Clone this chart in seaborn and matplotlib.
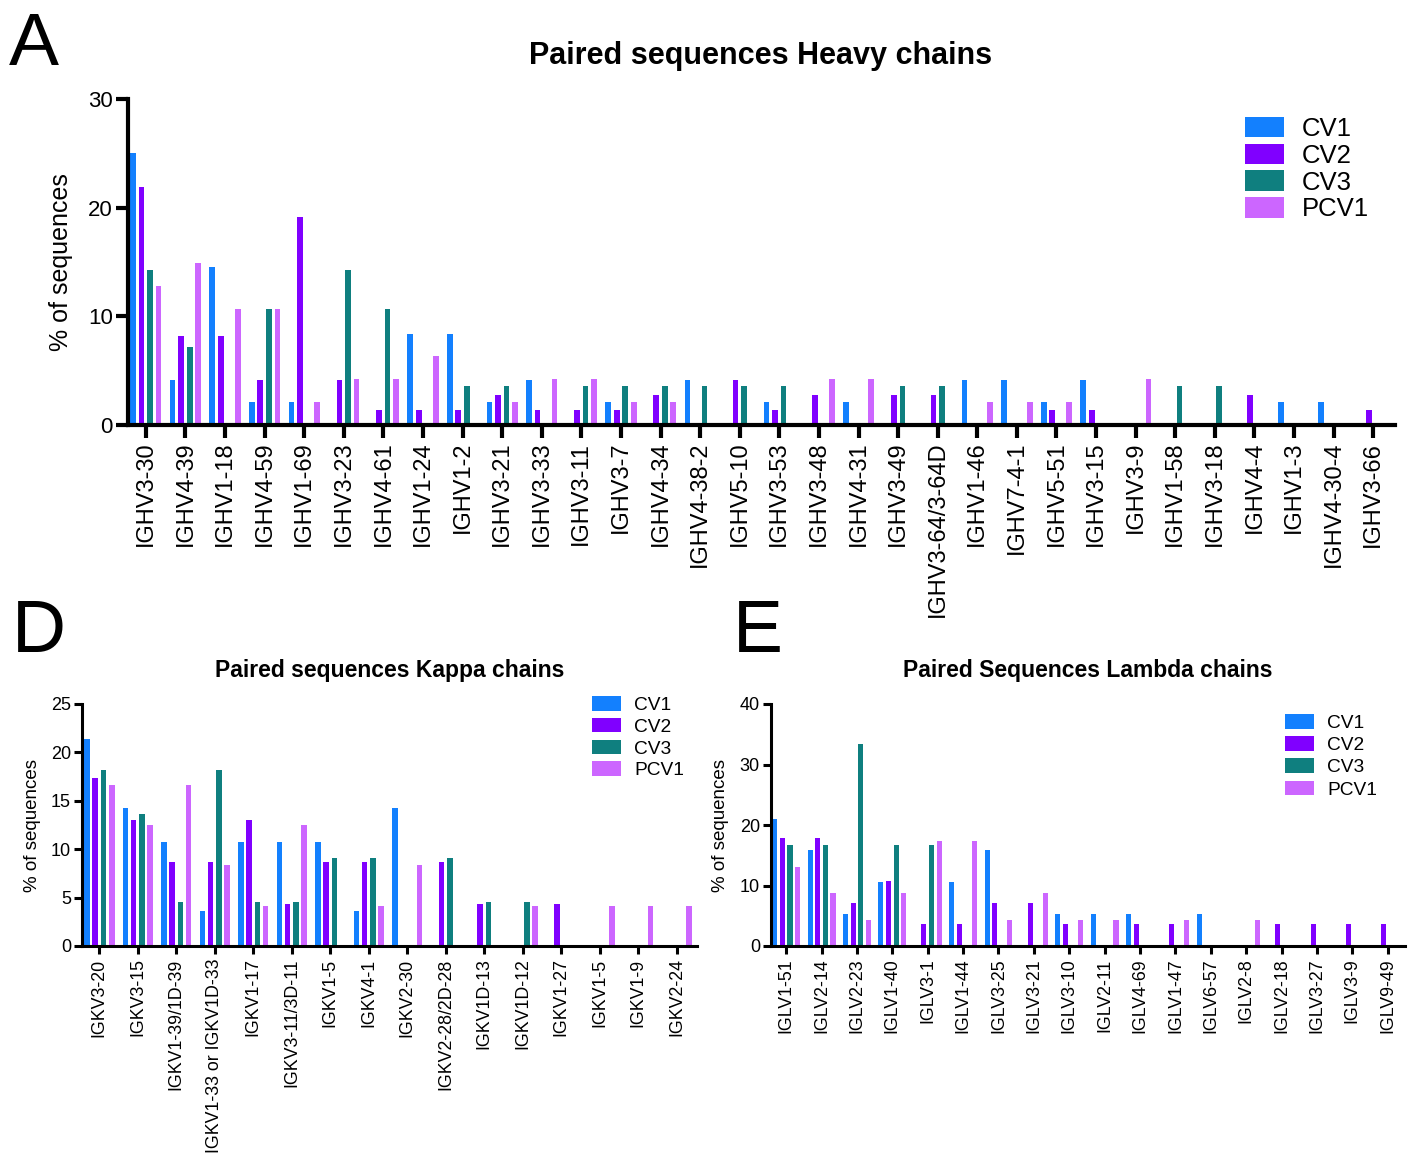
import numpy as np
import pandas as pd
import matplotlib
matplotlib.use("Agg")
import matplotlib.pyplot as plt
import seaborn as sns

groups = ['CV1', 'CV2', 'CV3', 'PCV1']
colors = ['#1380FE', '#8000FF', '#0F7F7F', '#CC66FF']

# Heavy chains
heavy_genes = ['IGHV3-30', 'IGHV4-39', 'IGHV1-18', 'IGHV4-59', 'IGHV1-69', 'IGHV3-23',
               'IGHV4-61', 'IGHV1-24', 'IGHV1-2', 'IGHV3-21', 'IGHV3-33', 'IGHV3-11',
               'IGHV3-7', 'IGHV4-34', 'IGHV4-38-2', 'IGHV5-10', 'IGHV3-53', 'IGHV3-48',
               'IGHV4-31', 'IGHV3-49', 'IGHV3-64/3-64D', 'IGHV1-46', 'IGHV7-4-1', 'IGHV5-51',
               'IGHV3-15', 'IGHV3-9', 'IGHV1-58', 'IGHV3-18', 'IGHV4-4', 'IGHV1-3',
               'IGHV4-30-4', 'IGHV3-66']
heavy_cv1 = [25.0, 4.17, 14.58, 2.08, 2.08, 0, 0, 8.33, 8.33, 2.08, 4.17, 0, 2.08, 0, 4.17, 0,
             2.08, 0, 2.08, 0, 0, 4.17, 4.17, 2.08, 4.17, 0, 0, 0, 0, 2.08, 2.08, 0]
heavy_cv2 = [21.92, 8.22, 8.22, 4.11, 19.18, 4.11, 1.37, 1.37, 1.37, 2.74, 1.37, 1.37, 1.37, 2.74, 0, 4.11,
             1.37, 2.74, 0, 2.74, 2.74, 0, 0, 1.37, 1.37, 0, 0, 0, 2.74, 0, 0, 1.37]
heavy_cv3 = [14.29, 7.14, 0, 10.71, 0, 14.29, 10.71, 0, 3.57, 3.57, 0, 3.57, 3.57, 3.57, 3.57, 3.57,
             3.57, 0, 0, 3.57, 3.57, 0, 0, 0, 0, 0, 3.57, 3.57, 0, 0, 0, 0]
heavy_pcv1 = [12.77, 14.89, 10.64, 10.64, 2.13, 4.26, 4.26, 6.38, 0, 2.13, 4.26, 4.26, 2.13, 2.13, 0, 0,
              0, 4.26, 4.26, 0, 0, 2.13, 2.13, 2.13, 0, 4.26, 0, 0, 0, 0, 0, 0]

# Kappa chains
kappa_genes = ['IGKV3-20', 'IGKV3-15', 'IGKV1-39/1D-39', 'IGKV1-33 or IGKV1D-33', 'IGKV1-17',
               'IGKV3-11/3D-11', 'IGKV1-5', 'IGKV4-1', 'IGKV2-30', 'IGKV2-28/2D-28', 'IGKV1D-13',
               'IGKV1D-12', 'IGKV1-27', 'IGKV1-5', 'IGKV1-9', 'IGKV2-24']
kappa_cv1 = [21.43, 14.29, 10.71, 3.57, 10.71, 10.71, 10.71, 3.57, 14.29, 0, 0, 0, 0, 0, 0, 0]
kappa_cv2 = [17.39, 13.04, 8.70, 8.70, 13.04, 4.35, 8.70, 8.70, 0, 8.70, 4.35, 0, 4.35, 0, 0, 0]
kappa_cv3 = [18.18, 13.64, 4.55, 18.18, 4.55, 4.55, 9.09, 9.09, 0, 9.09, 4.55, 4.55, 0, 0, 0, 0]
kappa_pcv1 = [16.67, 12.5, 16.67, 8.33, 4.17, 12.5, 0, 4.17, 8.33, 0, 0, 4.17, 0, 4.17, 4.17, 4.17]

# Lambda chains
lambda_genes = ['IGLV1-51', 'IGLV2-14', 'IGLV2-23', 'IGLV1-40', 'IGLV3-1', 'IGLV1-44', 'IGLV3-25',
                'IGLV3-21', 'IGLV3-10', 'IGLV2-11', 'IGLV4-69', 'IGLV1-47', 'IGLV6-57', 'IGLV2-8',
                'IGLV2-18', 'IGLV3-27', 'IGLV3-9', 'IGLV9-49']
lambda_cv1 = [21.05, 15.79, 5.26, 10.53, 0, 10.53, 15.79, 0, 5.26, 5.26, 5.26, 0, 5.26, 0, 0, 0, 0, 0]
lambda_cv2 = [17.86, 17.86, 7.14, 10.71, 3.57, 3.57, 7.14, 7.14, 3.57, 0, 3.57, 3.57, 0, 0, 3.57, 3.57, 3.57, 3.57]
lambda_cv3 = [16.67, 16.67, 33.33, 16.67, 16.67, 0, 0, 0, 0, 0, 0, 0, 0, 0, 0, 0, 0, 0]
lambda_pcv1 = [13.04, 8.70, 4.35, 8.70, 17.39, 17.39, 4.35, 8.70, 4.35, 4.35, 0, 4.35, 0, 4.35, 0, 0, 0, 0]

sns.set_style('ticks')
plt.rcParams['font.family'] = ['Liberation Sans', 'DejaVu Sans']
for k in ['text.color', 'axes.labelcolor', 'xtick.color', 'ytick.color', 'axes.edgecolor']:
    plt.rcParams[k] = 'black'

fig = plt.figure(figsize=(14.11, 11.63), dpi=100)
W, H = 1411, 1163


def axes_px(left, top, right, bottom):
    return fig.add_axes([left / W, 1 - bottom / H, (right - left) / W, (bottom - top) / H])


def draw(ax, genes, series, ymax, yticks, xlim, lw, ticklen, tickfs, yfs, labfs, labpad):
    n = len(genes)
    df = pd.DataFrame({
        'pos': np.tile(np.arange(n), 4),
        'pct': np.concatenate(series),
        'group': np.repeat(groups, n),
    })
    sns.barplot(data=df, x='pos', y='pct', hue='group', hue_order=groups, palette=colors,
                saturation=1, width=0.86, gap=0.33, linewidth=0, errorbar=None, ax=ax)
    ax.set_xticks(range(n))
    ax.set_xticklabels(genes, rotation=90, fontsize=tickfs)
    ax.set_xlim(*xlim)
    ax.set_ylim(0, ymax)
    ax.set_yticks(yticks)
    ax.tick_params(axis='y', labelsize=yfs, width=lw, length=ticklen, pad=2)
    ax.tick_params(axis='x', width=lw, length=ticklen, pad=3)
    ax.set_xlabel('')
    ax.set_ylabel('% of sequences', fontsize=labfs, labelpad=labpad)
    sns.despine(ax=ax)
    for s in ['left', 'bottom']:
        ax.spines[s].set_linewidth(lw)
    handles, labels = ax.get_legend_handles_labels()
    ax.get_legend().remove()
    return handles, labels


# Panel A
axA = axes_px(128, 99, 1395, 425)
h, l = draw(axA, heavy_genes, [heavy_cv1, heavy_cv2, heavy_cv3, heavy_pcv1], 30, [0, 10, 20, 30],
            (-0.45, 31.55), 3, 9, 17, 16, 18, 11)
axA.legend(h, l, loc='upper left', bbox_to_anchor=(1245 / W, 1 - 117 / H), bbox_transform=fig.transFigure,
           frameon=False, fontsize=18.5, handlelength=1.5, handleheight=0.85, labelspacing=0.1,
           handletextpad=0.7, borderpad=0, borderaxespad=0)

# Panel D
axD = axes_px(82, 704, 697, 946)
h, l = draw(axD, kappa_genes, [kappa_cv1, kappa_cv2, kappa_cv3, kappa_pcv1], 25, [0, 5, 10, 15, 20, 25],
            (-0.45, 15.53), 2.2, 6, 12.8, 13, 13.5, 7)
axD.legend(h, l, loc='upper left', bbox_to_anchor=(592 / W, 1 - 696 / H), bbox_transform=fig.transFigure,
           frameon=False, fontsize=13.8, handlelength=1.5, handleheight=0.8, labelspacing=0.2,
           handletextpad=0.7, borderpad=0, borderaxespad=0)

# Panel E
axE = axes_px(771, 704, 1405, 946)
h, l = draw(axE, lambda_genes, [lambda_cv1, lambda_cv2, lambda_cv3, lambda_pcv1], 40, [0, 10, 20, 30, 40],
            (-0.43, 17.49), 2.2, 6, 12.8, 13, 13.5, 8)
axE.legend(h, l, loc='upper left', bbox_to_anchor=(1285 / W, 1 - 714 / H), bbox_transform=fig.transFigure,
           frameon=False, fontsize=13.8, handlelength=1.5, handleheight=0.8, labelspacing=0.22,
           handletextpad=0.7, borderpad=0, borderaxespad=0)

# titles and panel letters
fig.text(761 / W, 1 - 56 / H, 'Paired sequences Heavy chains', ha='center', va='center',
         fontsize=22, fontweight='bold')
fig.text(390 / W, 1 - 670 / H, 'Paired sequences Kappa chains', ha='center', va='center',
         fontsize=16.5, fontweight='bold')
fig.text(1088 / W, 1 - 670 / H, 'Paired Sequences Lambda chains', ha='center', va='center',
         fontsize=16.5, fontweight='bold')
fig.text(9 / W, 1 - 65 / H, 'A', fontsize=54, va='baseline')
fig.text(12 / W, 1 - 652 / H, 'D', fontsize=54, va='baseline')
fig.text(733 / W, 1 - 652 / H, 'E', fontsize=54, va='baseline')

fig.savefig('out.png', dpi=100)
